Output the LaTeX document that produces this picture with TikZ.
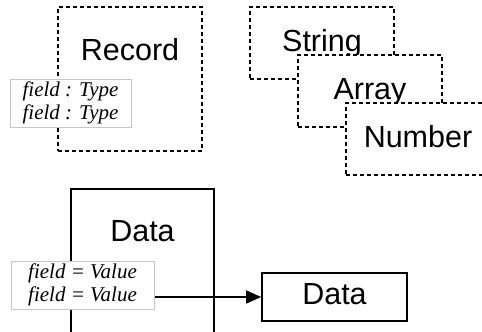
\documentclass[tikz,border=0pt]{standalone}
\usepackage{fontspec}
\setmainfont{Liberation Sans}
\newfontfamily\fieldfont{Liberation Serif}
\usetikzlibrary{arrows.meta, positioning}

\begin{document}
\begin{tikzpicture}[x=1pt, y=-1pt,
    dashbox/.style={draw, dash pattern=on 4pt off 3pt, line width=2pt, fill=white},
    solidbox/.style={draw, line width=1.6pt, fill=white},
    fieldbox/.style={draw=black!22, line width=1pt, fill=white, align=center, inner sep=0pt,
        minimum height=48pt, font=\fieldfont\itshape\fontsize{21}{23}\selectfont},
    title/.style={font=\fontsize{30.5}{36}\selectfont, inner sep=0pt},
    link/.style={-{Triangle[length=15pt, width=13pt]}, line width=1.3pt}]
    % variables
    \pgfmathsetmacro{\vStep}{48}
    \pgfmathsetmacro{\vGap}{45}

    \useasboundingbox (0,0) rectangle (482,332);

    % record with its fields
    \node[dashbox, fill=none, minimum width=144pt, minimum height=144pt] (record) at (130,79) {};
    \node[title, anchor=base] (recordname) at ([yshift=-54pt]record.north) {Record};
    \node[fieldbox, minimum width=121pt] (recordfields) at (70.5,103) {field : Type\\field : Type};

    % stacked types
    \node[dashbox, minimum width=144pt, minimum height=72pt] (string) at (322,43) {};
    \node[title, anchor=base] (stringname) at ([yshift=-\vGap pt]string.north) {String};
    \node[dashbox, minimum width=144pt, minimum height=72pt] (array) at ([shift={(\vStep,\vStep)}]string.center) {};
    \node[title, anchor=base] (arrayname) at ([yshift=-\vGap pt]array.north) {Array};
    \node[dashbox, minimum width=144pt, minimum height=72pt] (number) at ([shift={(\vStep,\vStep)}]array.center) {};
    \node[title, anchor=base] (numbername) at ([yshift=-\vGap pt]number.north) {Number};

    % data with its values
    \node[solidbox, minimum width=143pt, minimum height=144pt] (data) at (142.5,261) {};
    \node[title, anchor=base] (dataname) at ([yshift=-53pt]data.north) {Data};
    \node[fieldbox, minimum width=143pt] (datafields) at (82.5,285) {field = Value\\field = Value};
    \node[solidbox, title, text depth=6pt, minimum width=145pt, minimum height=48pt] (target) at (334.5,297) {Data};

    \draw[link] (datafields.east |- target.west) -- (target.west);
\end{tikzpicture}
\end{document}
